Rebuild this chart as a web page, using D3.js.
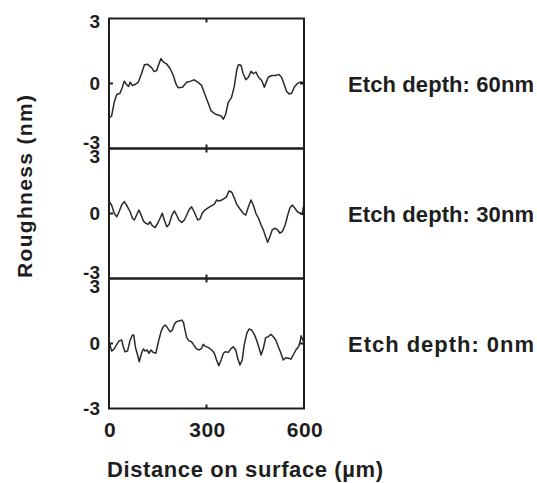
<!DOCTYPE html>
<html>
<head>
<meta charset="utf-8">
<script src="https://cdn.jsdelivr.net/npm/d3@7"></script>
<style>
  html, body { margin: 0; padding: 0; background: #fff; }
  text { font-family: "Liberation Sans", Arial, Helvetica, sans-serif; font-weight: bold; fill: #1e1e1e; }
</style>
</head>
<body>
<svg id="chart" width="537" height="483"></svg>
<script>
// ---- data ----
const xTicks = [0, 300, 600];
const yTicks = [-3, 0, 3];
const panelLabels = ["Etch depth: 60nm", "Etch depth: 30nm", "Etch depth: 0nm"];
const xTitle = "Distance on surface  (\u00b5m)";
const yTitle = "Roughness  (nm)";

const dist60 = [2,8,16,24,34,41,47,54,60,65,72,80,90,100,109,119,126,131,139,147,152,160,167,178,188,198,206,213,226,239,252,262,273,285,295,304,314,321,328,336,345,352,359,367,377,385,393,398,406,413,421,429,437,444,452,460,470,478,485,490,501,513,523,531,539,546,554,562,570,578,588,598];
const rough60 = [-1.57,-1.5,-0.87,-0.51,-0.45,-0.17,0.11,-0.05,-0.14,0.06,-0.09,-0.05,0.06,0.45,0.87,0.89,0.79,0.73,0.55,0.61,0.84,1.15,1.0,0.89,0.69,0.37,-0.02,-0.2,-0.17,0.06,0.11,0.17,0.06,-0.09,-0.5,-0.85,-1.26,-1.34,-1.42,-1.45,-1.5,-1.65,-1.42,-0.87,-0.64,-0.17,0.61,0.87,0.84,0.45,0.17,0.29,0.56,0.45,0.53,0.29,0.14,-0.17,0.11,0.29,0.37,0.37,0.42,0.29,-0.05,-0.36,-0.48,-0.45,-0.17,-0.02,0.06,0.06];

const dist30 = [2,8,16,24,31,39,47,54,65,72,78,85,92,98,106,113,121,126,133,142,150,157,164,170,178,185,193,201,208,215,224,232,239,246,254,262,273,280,287,295,306,316,324,331,338,347,355,362,369,378,386,393,403,413,421,429,437,444,452,460,468,475,482,488,495,502,511,519,526,533,542,550,557,564,572,580,588,595,598];
const rough30 = [0.52,0.39,0.01,-0.15,0.08,0.39,0.55,0.39,0.08,-0.22,-0.3,-0.07,0.16,-0.04,-0.35,-0.45,-0.5,-0.38,-0.56,-0.65,-0.45,-0.22,0.01,-0.3,-0.61,-0.5,-0.1,0.12,-0.07,-0.3,-0.41,-0.3,-0.07,0.16,0.31,0.08,-0.3,-0.25,0.01,0.16,0.27,0.36,0.42,0.62,0.58,0.62,0.7,0.78,1.04,0.98,0.7,0.42,0.21,0.01,-0.07,0.31,0.62,0.39,0.01,-0.22,-0.53,-0.76,-1.07,-1.33,-1.07,-0.76,-0.68,-0.76,-0.91,-0.84,-0.53,-0.07,0.27,0.39,0.24,0.08,0.01,-0.04,0.31];

const dist0 = [2,8,16,24,31,39,44,49,57,65,72,76,82,88,93,100,106,111,117,123,129,136,144,152,160,167,174,181,188,195,201,208,215,224,229,234,239,246,254,262,270,277,285,290,295,306,316,324,331,338,345,352,359,367,375,382,390,396,403,410,416,424,431,439,447,454,462,468,475,482,490,498,506,513,521,529,536,544,552,560,567,575,583,588,591,598];
const rough0 = [0.01,-0.35,-0.25,-0.04,0.12,0.16,-0.15,-0.38,-0.35,0.16,0.39,0.39,-0.22,-0.53,-0.84,-0.45,-0.25,-0.35,-0.3,-0.45,-0.3,-0.41,-0.45,0.08,0.54,0.78,0.85,0.7,0.54,0.62,0.89,1.01,1.04,1.08,0.98,0.62,0.27,0.12,0.08,-0.1,-0.25,-0.3,-0.22,-0.04,-0.12,-0.19,-0.3,-0.45,-0.76,-1.02,-0.76,-0.45,-0.38,-0.41,-0.25,-0.15,-0.3,-0.68,-0.99,-0.76,-0.07,0.47,0.67,0.62,0.42,0.16,-0.22,-0.53,-0.22,0.27,0.31,0.42,0.31,0.16,-0.15,-0.45,-0.76,-0.66,-0.68,-0.72,-0.53,-0.3,-0.15,0.08,0.36,0.1];

const seriesDist = [dist60, dist30, dist0];
const seriesRough = [rough60, rough30, rough0];

// ---- layout ----
const svg = d3.select("#chart");
const ink = "#1e1e1e";
const plotLeft = 109, plotRight = 304;
const firstTop = 18.5, panelH = 130;

const x = d3.scaleLinear().domain([0, 600]).range([plotLeft, plotRight]);

seriesDist.forEach((dist, i) => {
  const top = firstTop + i * panelH;
  const y = d3.scaleLinear().domain([-3, 3]).range([top + panelH, top]);
  const g = svg.append("g");

  // trace
  const pts = dist.map((d, k) => [d, seriesRough[i][k]]);
  g.append("path")
    .datum(pts)
    .attr("fill", "none")
    .attr("stroke", "#2a2a2a")
    .attr("stroke-width", 1.5)
    .attr("stroke-linejoin", "round")
    .attr("d", d3.line().x(d => x(d[0])).y(d => y(d[1])));

  // frame
  g.append("rect")
    .attr("x", x(0)).attr("y", y(3))
    .attr("width", x(600) - x(0)).attr("height", y(-3) - y(3))
    .attr("fill", "none").attr("stroke", ink).attr("stroke-width", 2);

  // x ticks (top and bottom, inward)
  xTicks.slice(1, -1).forEach(t => {
    g.append("line").attr("x1", x(t)).attr("x2", x(t))
      .attr("y1", y(3)).attr("y2", y(3) + 4).attr("stroke", ink).attr("stroke-width", 2);
    g.append("line").attr("x1", x(t)).attr("x2", x(t))
      .attr("y1", y(-3)).attr("y2", y(-3) - 4).attr("stroke", ink).attr("stroke-width", 2);
  });
  // y ticks at 0 (left and right, inward)
  g.append("line").attr("x1", x(0)).attr("x2", x(0) + 4)
    .attr("y1", y(0)).attr("y2", y(0)).attr("stroke", ink).attr("stroke-width", 2);
  g.append("line").attr("x1", x(600)).attr("x2", x(600) - 4)
    .attr("y1", y(0)).attr("y2", y(0)).attr("stroke", ink).attr("stroke-width", 2);

  // y tick labels
  yTicks.forEach(t => {
    let yy = y(t);
    if (t === 3) yy += (i === 0 ? 3 : 7.5);
    if (t === -3) yy -= (i === seriesDist.length - 1 ? 0 : 6.5);
    g.append("text")
      .attr("x", 100).attr("y", yy)
      .attr("text-anchor", "end")
      .attr("dominant-baseline", "central")
      .attr("font-size", 19)
      .text(t < 0 ? "-" + Math.abs(t) : String(t));
  });

  // panel label
  g.append("text")
    .attr("x", 348).attr("y", y(0) + 1)
    .attr("dominant-baseline", "central")
    .attr("font-size", 22)
    .attr("textLength", 186)
    .attr("lengthAdjust", "spacing")
    .text(panelLabels[i]);
});

// x tick labels
const bottom = firstTop + 3 * panelH;
xTicks.forEach(t => {
  svg.append("text")
    .attr("x", x(t) + 1).attr("y", bottom + 28)
    .attr("text-anchor", "middle")
    .attr("font-size", 21)
    .attr("letter-spacing", 0.5)
    .text(t);
});

// axis titles
svg.append("text")
  .attr("x", 107).attr("y", 477)
  .attr("font-size", 22)
  .attr("textLength", 276)
  .attr("lengthAdjust", "spacing")
  .text(xTitle);

svg.append("text")
  .attr("transform", "translate(32,278) rotate(-90)")
  .attr("font-size", 21)
  .attr("textLength", 183)
  .attr("lengthAdjust", "spacing")
  .text(yTitle);
</script>
</body>
</html>
